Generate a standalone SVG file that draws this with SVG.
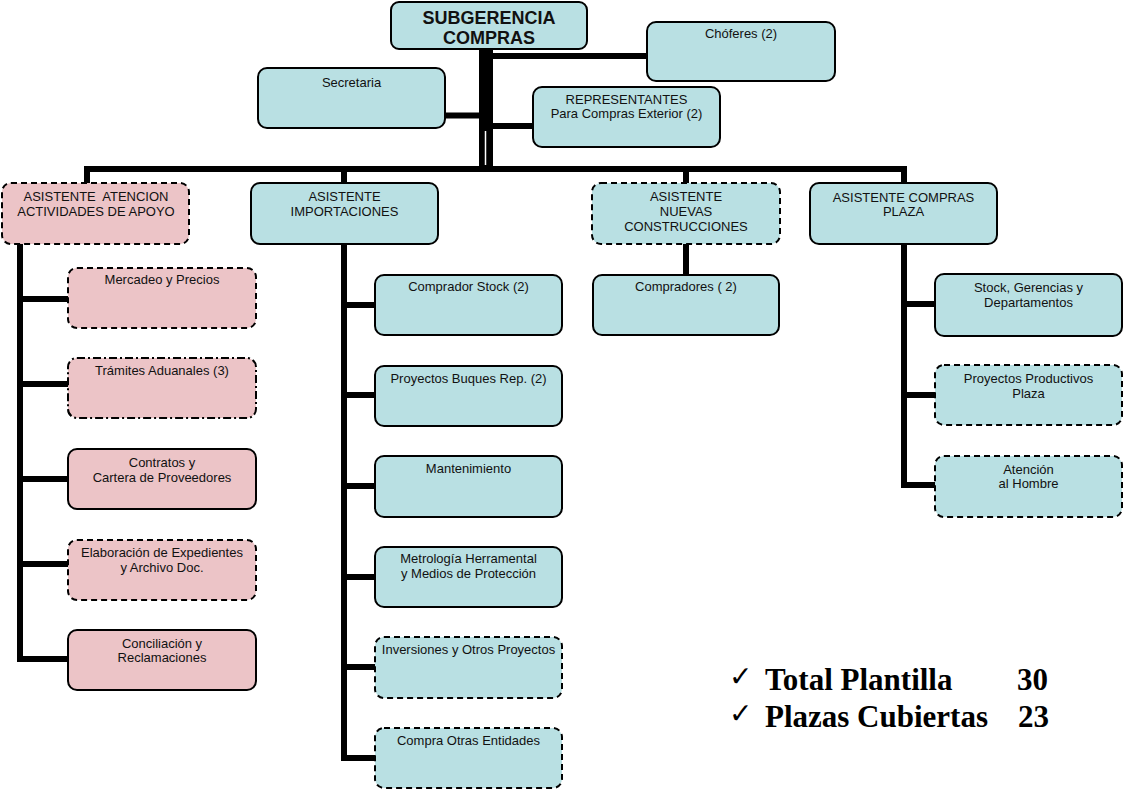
<svg xmlns="http://www.w3.org/2000/svg" width="1123" height="791" viewBox="0 0 1123 791">
<style>
.box{stroke:#000;stroke-width:2}
.blue{fill:#B9E0E3}
.pink{fill:#ECC4C7}
.dash{stroke-dasharray:6 4}
.dashdot{stroke-dasharray:8 3 2 3}
.t{font-family:"Liberation Sans",Arial,sans-serif;font-size:13px;text-anchor:middle;fill:#111;white-space:pre}
.h{font-family:"Liberation Sans",Arial,sans-serif;font-size:18px;font-weight:bold;text-anchor:middle;fill:#111}
.c{fill:none;stroke:#000;stroke-width:6;stroke-linecap:square}
.big{font-family:"Liberation Serif","Times New Roman",serif;font-size:31px;font-weight:bold;fill:#000}
.chk{font-family:"DejaVu Sans",sans-serif;font-size:28px;fill:#000}
</style>
<g id="connectors">
<line x1="486" y1="49" x2="486" y2="169" stroke="#000" stroke-width="14"/>
<line x1="485.5" y1="131" x2="485.5" y2="165" stroke="#fff" stroke-width="1.5"/>
<path class="c" d="M493 56 H647 M445 115.5 H479 M493 126 H533"/>
<path class="c" d="M87 169 H904 M87 169 V183 M344 169 V183 M686 169 V183 M904 169 V183"/>
<path class="c" d="M20 244 V659 H68 M20 299 H68 M20 384 H68 M20 479 H68 M20 564 H68"/>
<path class="c" d="M344 244 V758 H375 M344 305 H375 M344 395 H375 M344 486 H375 M344 577 H375 M344 667 H375"/>
<path class="c" d="M686 244 V275"/>
<path class="c" d="M904 244 V485 H935 M904 304 H935 M904 395 H935"/>
</g>
<g id="n-subgerencia"><rect class="box blue" x="391" y="2" width="196" height="47" rx="8"/><text class="h" x="489" y="23.5">SUBGERENCIA</text><text class="h" x="489" y="43.5">COMPRAS</text></g>
<g id="n-choferes"><rect class="box blue" x="647" y="22" width="188" height="59" rx="9"/><text class="t" x="741" y="38">Chóferes (2)</text></g>
<g id="n-secretaria"><rect class="box blue" x="258" y="68" width="187" height="60" rx="9"/><text class="t" x="351.5" y="87">Secretaria</text></g>
<g id="n-representantes"><rect class="box blue" x="533" y="87" width="187" height="60" rx="9"/><text class="t" x="626.5" y="104">REPRESENTANTES</text><text class="t" x="626.5" y="118">Para Compras Exterior (2)</text></g>
<g id="n-atencion"><rect class="box pink dash" x="2" y="183" width="187" height="61" rx="9"/><text class="t" x="96" y="200.5">ASISTENTE  ATENCION</text><text class="t" x="96" y="215.5">ACTIVIDADES DE APOYO</text></g>
<g id="n-importaciones"><rect class="box blue" x="251" y="183" width="187" height="61" rx="9"/><text class="t" x="344.5" y="200.5">ASISTENTE</text><text class="t" x="344.5" y="215.5">IMPORTACIONES</text></g>
<g id="n-nuevas"><rect class="box blue dash" x="592" y="183" width="188" height="61" rx="9"/><text class="t" x="686" y="201">ASISTENTE</text><text class="t" x="686" y="215.5">NUEVAS</text><text class="t" x="686" y="230.5">CONSTRUCCIONES</text></g>
<g id="n-plaza"><rect class="box blue" x="810" y="183" width="187" height="61" rx="9"/><text class="t" x="903.5" y="201.5">ASISTENTE COMPRAS</text><text class="t" x="903.5" y="215.5">PLAZA</text></g>
<g id="n-mercadeo"><rect class="box pink dash" x="68" y="268" width="188" height="60" rx="9"/><text class="t" x="162" y="284">Mercadeo y Precios</text></g>
<g id="n-tramites"><rect class="box pink dashdot" x="68" y="358" width="188" height="60" rx="9"/><text class="t" x="162" y="375">Trámites Aduanales (3)</text></g>
<g id="n-contratos"><rect class="box pink" x="68" y="449" width="188" height="60" rx="9"/><text class="t" x="162" y="466.5">Contratos y</text><text class="t" x="162" y="481.5">Cartera de Proveedores</text></g>
<g id="n-elaboracion"><rect class="box pink dash" x="68" y="540" width="188" height="60" rx="9"/><text class="t" x="162" y="557">Elaboración de Expedientes</text><text class="t" x="162" y="572">y Archivo Doc.</text></g>
<g id="n-conciliacion"><rect class="box pink" x="68" y="630" width="188" height="60" rx="9"/><text class="t" x="162" y="647.5">Conciliación y</text><text class="t" x="162" y="662">Reclamaciones</text></g>
<g id="n-comprador-stock"><rect class="box blue" x="375" y="275" width="187" height="60" rx="9"/><text class="t" x="468.5" y="291">Comprador Stock (2)</text></g>
<g id="n-buques"><rect class="box blue" x="375" y="366" width="187" height="60" rx="9"/><text class="t" x="468.5" y="383">Proyectos Buques Rep. (2)</text></g>
<g id="n-mantenimiento"><rect class="box blue" x="375" y="456" width="187" height="61" rx="9"/><text class="t" x="468.5" y="473">Mantenimiento</text></g>
<g id="n-metrologia"><rect class="box blue" x="375" y="547" width="187" height="60" rx="9"/><text class="t" x="468.5" y="563">Metrología Herramental</text><text class="t" x="468.5" y="578">y Medios de Protección</text></g>
<g id="n-inversiones"><rect class="box blue dash" x="375" y="637" width="187" height="61" rx="9"/><text class="t" x="468.5" y="654">Inversiones y Otros Proyectos</text></g>
<g id="n-compra-otras"><rect class="box blue dash" x="375" y="728" width="187" height="60" rx="9"/><text class="t" x="468.5" y="745">Compra Otras Entidades</text></g>
<g id="n-compradores"><rect class="box blue" x="593" y="275" width="186" height="60" rx="9"/><text class="t" x="686" y="291">Compradores ( 2)</text></g>
<g id="n-stock"><rect class="box blue" x="935" y="274" width="187" height="62" rx="9"/><text class="t" x="1028.5" y="291.5">Stock, Gerencias y</text><text class="t" x="1028.5" y="306.5">Departamentos</text></g>
<g id="n-productivos"><rect class="box blue dash" x="935" y="365" width="187" height="60" rx="9"/><text class="t" x="1028.5" y="382.5">Proyectos Productivos</text><text class="t" x="1028.5" y="397.5">Plaza</text></g>
<g id="n-hombre"><rect class="box blue dash" x="935" y="456" width="187" height="61" rx="9"/><text class="t" x="1028.5" y="473.5">Atención</text><text class="t" x="1028.5" y="487.5">al Hombre</text></g>
<g id="totals">
<text class="chk" x="729" y="686">✓</text><text class="big" x="765" y="690">Total Plantilla</text><text class="big" x="1017" y="690">30</text>
<text class="chk" x="729" y="723">✓</text><text class="big" x="765" y="727">Plazas Cubiertas</text><text class="big" x="1018" y="727">23</text>
</g>
</svg>
